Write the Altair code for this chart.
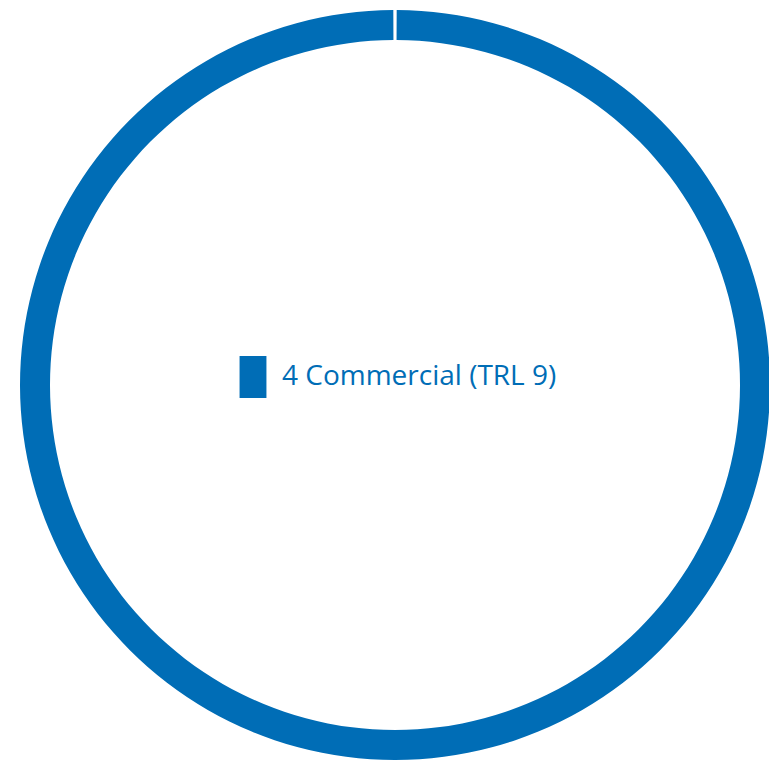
import math
import altair as alt
import pandas as pd

categories = ["4 Commercial (TRL 9)"]
values = [100]
colors = ["#006DB6"]

df = pd.DataFrame({"category": categories, "value": values})

gap = 0.0045
chart = (
    alt.Chart(df)
    .mark_arc(innerRadius=345, outerRadius=375)
    .encode(
        theta=alt.Theta("value:Q", stack=True,
                        scale=alt.Scale(range=[gap, 2 * math.pi - gap])),
        color=alt.Color(
            "category:N",
            scale=alt.Scale(domain=categories, range=colors),
            legend=alt.Legend(
                title=None,
                orient="none",
                legendX=224,
                legendY=348,
                padding=0,
                symbolType="M-0.64,-1 L0.64,-1 L0.64,1 L-0.64,1 Z",
                symbolSize=1764,
                symbolStrokeWidth=0,
                labelFont="Open Sans",
                labelFontSize=28,
                labelColor="#006DB6",
                labelOffset=8,
                labelLimit=400,
            ),
        ),
        x=alt.value(387),
        y=alt.value(377),
    )
    .properties(width=761, height=752, autosize="none", padding=0)
    .configure_view(stroke=None)
)

chart.save("out.html", embed_options={"renderer": "svg", "actions": False})
